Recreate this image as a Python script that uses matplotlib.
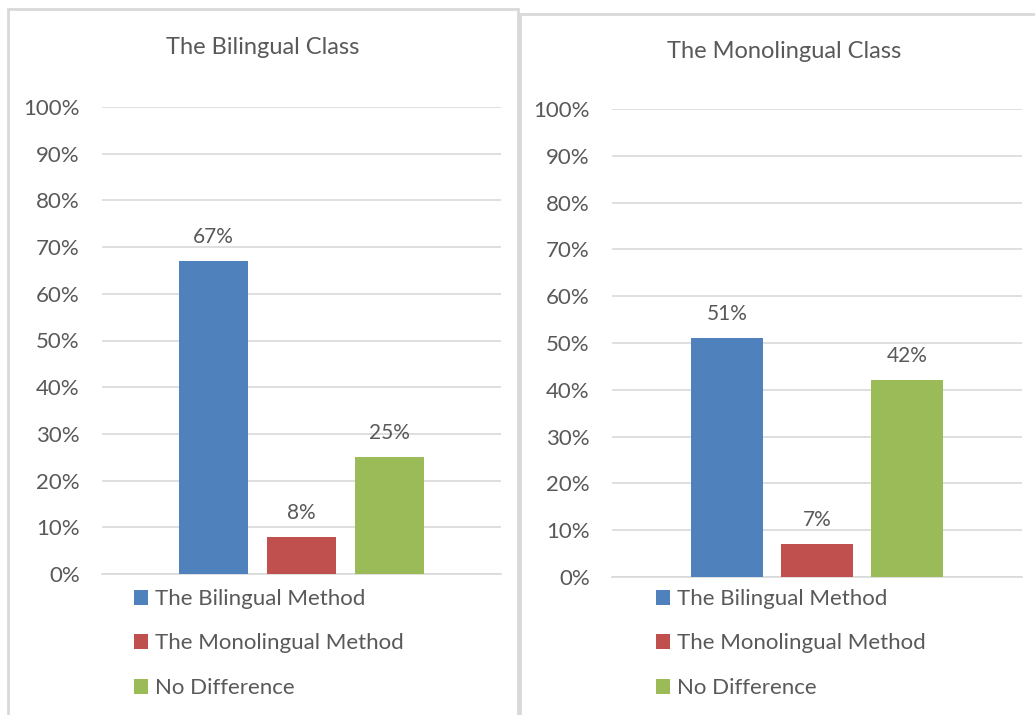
import matplotlib
matplotlib.use('Agg')
import matplotlib.pyplot as plt
from matplotlib.patches import Rectangle, Patch
from matplotlib.ticker import FuncFormatter

# datos
series = ['The Bilingual Method', 'The Monolingual Method', 'No Difference']
colores = ['#4F81BD', '#C0504D', '#9BBB59']
titulos = ['The Bilingual Class', 'The Monolingual Class']
bilingual_class = [67, 8, 25]
monolingual_class = [51, 7, 42]
valores = [bilingual_class, monolingual_class]
yticks = list(range(0, 101, 10))

plt.rcParams['font.family'] = ['Lato', 'DejaVu Sans']
gris = '#595959'

W, H = 1035, 715
fig = plt.figure(figsize=(W / 100, H / 100), dpi=100)


def px(x0, y0, x1, y1):
    # pixeles (arriba-izquierda) -> coords de figura
    return [x0 / W, 1 - y1 / H, (x1 - x0) / W, (y1 - y0) / H]


# marcos de los dos graficos
for (x0, y0, x1, y1) in [(8, 9, 518, 730), (520, 14, 1040, 730)]:
    fig.patches.append(Rectangle((x0 / W, 1 - y1 / H), (x1 - x0) / W, (y1 - y0) / H,
                                 transform=fig.transFigure, fill=False,
                                 edgecolor='#D9D9D9', linewidth=2))

# posiciones de los ejes en pixeles
ejes = [(102, 107, 501, 574), (612, 109, 1022, 577)]
titulo_pos = [(263, 47), (784, 52)]
legend_pos = [(134, 589), (656, 589)]
anchos = [0.784, 0.79]
mitades = [2.267, 2.278]

for k in range(2):
    ax = fig.add_axes(px(*ejes[k]))
    x = list(range(len(series)))
    barras = ax.bar(x, valores[k], width=anchos[k], color=colores, zorder=3)
    for b, v in zip(barras, valores[k]):
        ax.text(b.get_x() + b.get_width() / 2, v + 3, f'{v}%', ha='center', va='bottom',
                fontsize=15, color=gris)
    ax.set_ylim(0, 100)
    ax.set_xlim(1 - mitades[k], 1 + mitades[k])
    ax.set_yticks(yticks)
    ax.yaxis.set_major_formatter(FuncFormatter(lambda v, p: f'{int(v)}%'))
    ax.tick_params(axis='y', length=0, pad=16, labelsize=16, labelcolor=gris)
    ax.set_xticks([])
    ax.grid(axis='y', color='#D9D9D9', linewidth=1.2, zorder=0)
    for s in ['top', 'right', 'left']:
        ax.spines[s].set_visible(False)
    ax.spines['bottom'].set_color('#D9D9D9')
    ax.spines['bottom'].set_linewidth(1.2)

    tx, ty = titulo_pos[k]
    fig.text(tx / W, 1 - ty / H, titulos[k], ha='center', va='center',
             fontsize=17, color=gris)

    handles = [Patch(facecolor=c, edgecolor='none') for c in colores]
    lx, ly = legend_pos[k]
    fig.legend(handles, series, loc='upper left', bbox_to_anchor=(lx / W, 1 - ly / H),
               frameon=False, fontsize=16, labelcolor=gris, handlelength=0.65,
               handleheight=0.65, handletextpad=0.3, labelspacing=1.1, borderpad=0,
               borderaxespad=0)

fig.savefig('out.png', dpi=100, facecolor='white')
